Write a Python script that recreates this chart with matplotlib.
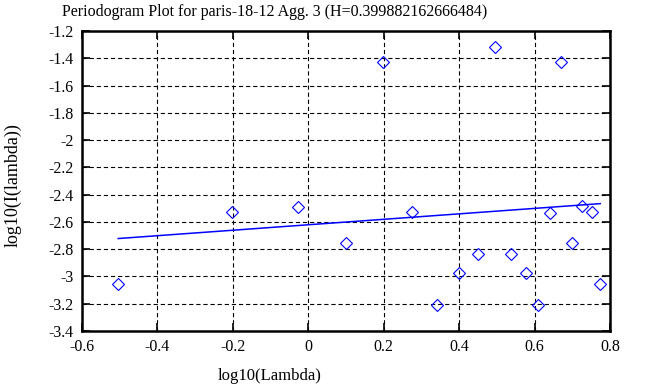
#!/usr/bin/env python3
"""Periodogram plot (log-log) with fitted line, gnuplot-like look."""

import matplotlib

matplotlib.use("Agg")
import matplotlib.pyplot as plt
import numpy as np

# periodogram points
log_lambda = [-0.504, -0.201, -0.026, 0.099, 0.197, 0.274, 0.342, 0.400, 0.451, 0.496,
              0.537, 0.576, 0.610, 0.641, 0.671, 0.699, 0.725, 0.752, 0.774]
log_I = [-3.052, -2.527, -2.490, -2.754, -1.425, -2.527, -3.212, -2.972, -2.832, -1.320,
         -2.832, -2.972, -3.212, -2.531, -1.425, -2.754, -2.485, -2.529, -3.052]

# fitted line: slope = 1 - 2H
H = 0.399882162666484
fit_slope = 1 - 2 * H
fit_intercept = -2.621

x_ticks = [-0.6, -0.4, -0.2, 0, 0.2, 0.4, 0.6, 0.8]
y_ticks = [-1.2, -1.4, -1.6, -1.8, -2, -2.2, -2.4, -2.6, -2.8, -3, -3.2, -3.4]

plt.rcParams["font.family"] = ["Liberation Serif", "DejaVu Serif"]

W, Hpx = 658, 387
fig = plt.figure(figsize=(W / 100, Hpx / 100), dpi=100)
ax = fig.add_axes([82 / W, 1 - 331 / Hpx, (610 - 82) / W, (331 - 31) / Hpx])

xs = np.array([min(log_lambda), max(log_lambda)])
ax.plot(xs, fit_slope * xs + fit_intercept, color="#0000ff", lw=1.1, zorder=3)
ax.plot(log_lambda, log_I, "D", ms=6.6, mfc="none", mec="#0000ff", mew=0.8, zorder=4)

ax.set_xlim(-0.6, 0.8)
ax.set_ylim(-3.4, -1.2)
ax.set_xticks(x_ticks)
ax.set_xticklabels([f"{v:g}" for v in x_ticks])
ax.set_yticks(y_ticks)
ax.set_yticklabels([f"{v:g}" for v in y_ticks])

ax.grid(True, color="black", lw=0.8, linestyle=(0, (3.8, 2.6)))
ax.set_axisbelow(True)
ax.tick_params(direction="in", length=5.5, width=1.2, top=True, right=True,
               labelsize=11.5, pad=6, colors="black")
for s in ax.spines.values():
    s.set_linewidth(1.8)

fig.text(275 / W, 1 - 12 / Hpx, "Periodogram Plot for paris-18-12 Agg. 3 (H=0.399882162666484)",
         ha="center", va="center", fontsize=11.5)
fig.text(270 / W, 1 - 376 / Hpx, "log10(Lambda)", ha="center", va="center", fontsize=12)
fig.text(13 / W, 1 - 185 / Hpx, "log10(I(lambda))", ha="center", va="center",
         rotation=90, fontsize=13)

fig.savefig("out.png", dpi=100)
